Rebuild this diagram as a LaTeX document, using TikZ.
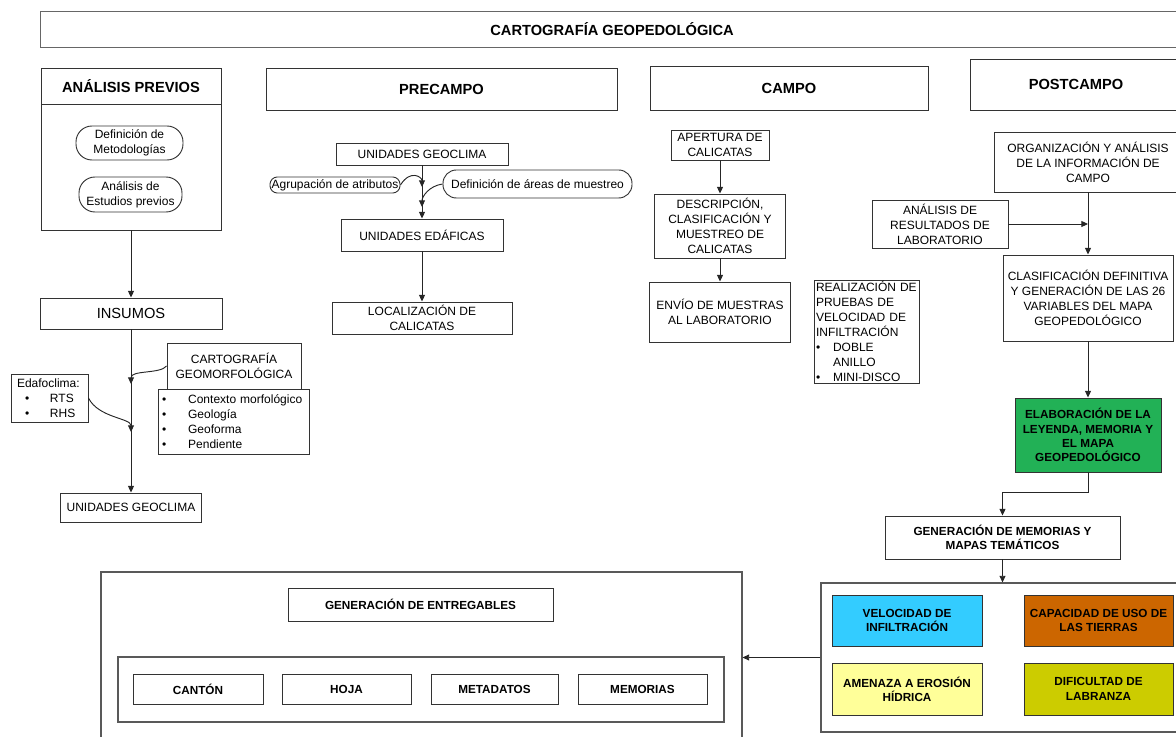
\documentclass[tikz,border=0pt]{standalone}
\usepackage{fontspec}
\setmainfont{Liberation Sans}
\usetikzlibrary{arrows.meta}
\definecolor{verdeelab}{RGB}{34,177,86}
\definecolor{celeste}{RGB}{51,204,255}
\definecolor{naranja}{RGB}{204,102,0}
\definecolor{amarillo}{RGB}{255,255,153}
\definecolor{oliva}{RGB}{204,204,0}

\begin{document}
\begin{tikzpicture}[x=0.75pt,y=-0.75pt,
	wh/.style 2 args={minimum width=#1*0.75pt, minimum height=#2*0.75pt},
	box/.style={draw=black!80, line width=0.7pt, inner sep=1pt, align=center, font=\fontsize{9}{11.2}\selectfont},
	hdr/.style={box, font=\fontsize{11}{13}\selectfont\bfseries},
	bld/.style={box, font=\fontsize{8.8}{10.7}\selectfont\bfseries},
	pill/.style={box, rounded corners=8pt},
	lst/.style={box, align=left},
	marco/.style={draw=black!65, line width=0.8pt},
	flecha/.style={draw=black!85, line width=0.7pt, -{Triangle[length=5pt,width=4.5pt]}}]
	\useasboundingbox (0,0) rectangle (1176,737);
	
	\node[marco, wh={641}{198}] (entFrame) at (421.5,671) {}; %entregables
	\node[marco, wh={361}{149}] (mapFrame) at (1001.5,657.5) {}; %mapas tematicos
	\node[marco, wh={606}{65}] (entInner) at (421,689.5) {};
	
	\node[hdr, draw=black!60, wh={1144}{36}] (titulo) at (612,29) {CARTOGRAFÍA GEOPEDOLÓGICA};
	
	%analisis previos
	\node[hdr, wh={180}{36}] (apHead) at (131,86) {ANÁLISIS PREVIOS};
	\node[box, wh={180}{126}] (apBody) at (131,167) {};
	\node[pill, rounded corners=12pt, wh={107}{34}] (defMet) at (129.5,143) {Definición de\\Metodologías};
	\node[pill, rounded corners=12pt, wh={103}{35}] (antEst) at (130.5,194.5) {Análisis de\\Estudios previos};
	\node[box, font=\fontsize{11}{13}\selectfont, wh={182}{31}] (insumos) at (131,313.5) {INSUMOS};
	\node[box, wh={134}{46}] (cartGeo) at (234,366) {CARTOGRAFÍA\\GEOMORFOLÓGICA};
	\node[lst, fill=white, inner xsep=3pt, text width=107pt, wh={151}{65}] (cartList) at (233.5,421.5) {\makebox[19.5pt][l]{\textbullet}Contexto morfológico\\\makebox[19.5pt][l]{\textbullet}Geología\\\makebox[19.5pt][l]{\textbullet}Geoforma\\\makebox[19.5pt][l]{\textbullet}Pendiente};
	\node[lst, inner xsep=4.5pt, text width=48.75pt, wh={77}{48}] (edafo) at (49.5,398) {Edafoclima:\\\hspace*{6pt}\makebox[18.75pt][l]{\textbullet}RTS\\\hspace*{6pt}\makebox[18.75pt][l]{\textbullet}RHS};
	\node[box, wh={141}{29}] (geoLeft) at (131,507.5) {UNIDADES GEOCLIMA};
	
	%precampo
	\node[hdr, wh={351}{42}] (precampo) at (441.5,89) {PRECAMPO};
	\node[box, wh={172}{22}] (geoPre) at (422,154) {UNIDADES GEOCLIMA};
	\node[pill, rounded corners=5.5pt, wh={130}{16}] (agrup) at (335,185) {Agrupación de atributos};
	\node[pill, rounded corners=10pt, wh={189}{28}] (defArea) at (537.5,184) {Definición de áreas de muestreo};
	\node[box, wh={162}{32}] (edafPre) at (422,235) {UNIDADES EDÁFICAS};
	\node[box, wh={180}{32}] (locCal) at (422,318) {LOCALIZACIÓN DE\\CALICATAS};
	
	%campo
	\node[hdr, wh={278}{44}] (campo) at (789,88) {CAMPO};
	\node[box, wh={98}{30}] (apert) at (720,145) {APERTURA DE\\CALICATAS};
	\node[box, wh={131}{64}] (descr) at (720,226) {DESCRIPCIÓN,\\CLASIFICACIÓN Y\\MUESTREO DE\\CALICATAS};
	\node[box, wh={141}{60}] (envio) at (720,312) {ENVÍO DE MUESTRAS\\AL LABORATORIO};
	\node[lst, inner xsep=1.5pt, text width=75.75pt, wh={105}{103}] (pruebas) at (866.5,331.5) {REALIZACIÓN DE\\PRUEBAS DE\\VELOCIDAD DE\\INFILTRACIÓN\\\makebox[12.75pt][l]{\textbullet}DOBLE\\\hspace*{12.75pt}ANILLO\\\makebox[12.75pt][l]{\textbullet}MINI-DISCO};
	
	%postcampo
	\node[hdr, wh={212}{51}] (postcampo) at (1076,84.5) {POSTCAMPO};
	\node[box, wh={188}{60}] (orgInfo) at (1088,162) {ORGANIZACIÓN Y ANÁLISIS\\DE LA INFORMACIÓN DE\\CAMPO};
	\node[box, wh={136}{48}] (resLab) at (940,224) {ANÁLISIS DE\\RESULTADOS DE\\LABORATORIO};
	\node[box, wh={170}{86}] (clasif) at (1088,298) {CLASIFICACIÓN DEFINITIVA\\Y GENERACIÓN DE LAS 26\\VARIABLES DEL MAPA\\GEOPEDOLÓGICO};
	\node[bld, fill=verdeelab, wh={146}{74}] (elab) at (1088,435) {ELABORACIÓN DE LA\\LEYENDA, MEMORIA Y\\EL MAPA\\GEOPEDOLÓGICO};
	\node[bld, wh={235}{43}] (genMem) at (1002.5,537.5) {GENERACIÓN DE MEMORIAS Y\\MAPAS TEMÁTICOS};
	
	%mapas tematicos
	\node[bld, fill=celeste, wh={150}{51}] (velInf) at (907,620.5) {VELOCIDAD DE\\INFILTRACIÓN};
	\node[bld, fill=naranja, wh={149}{51}] (capUso) at (1098.5,620.5) {CAPACIDAD DE USO DE\\LAS TIERRAS};
	\node[bld, fill=amarillo, wh={150}{52}] (amEro) at (907,689) {AMENAZA A EROSIÓN\\HÍDRICA};
	\node[bld, fill=oliva, wh={149}{52}] (difLab) at (1098.5,689) {DIFICULTAD DE\\LABRANZA};
	
	%entregables
	\node[bld, wh={265}{33}] (genEnt) at (420.5,604.5) {GENERACIÓN DE ENTREGABLES};
	\node[bld, wh={130}{30}] (canton) at (198,689) {CANTÓN};
	\node[bld, wh={129}{30}] (hoja) at (346.5,689) {HOJA};
	\node[bld, wh={127}{30}] (metad) at (494.5,689) {METADATOS};
	\node[bld, wh={129}{30}] (memor) at (642.5,689) {MEMORIAS};
	
	%arrows
	\coordinate (k1) at (131,384);
	\coordinate (k2) at (131,432);
	\coordinate (j1) at (422,187);
	\coordinate (j2) at (422,207);
	\draw[flecha] (apBody.south) -- (insumos.north);
	\draw[flecha] (insumos.south) -- (geoLeft.north);
	\draw[flecha] (cartGeo.west) .. controls +(-6,8) and +(0,-14) .. (k1);
	\draw[flecha] (edafo.east) .. controls +(10,20) and +(0,-14) .. (k2);
	\draw[flecha] (geoPre.south) -- (edafPre.north);
	\draw[flecha] (agrup.east) .. controls +(10,-16) and +(0,-10) .. (j1);
	\draw[flecha] (defArea.west) .. controls +(-14,2) and +(0,-10) .. (j2);
	\draw[flecha] (edafPre.south) -- (locCal.north);
	\draw[flecha] (apert.south) -- (descr.north);
	\draw[flecha] (descr.south) -- (envio.north);
	\draw[flecha] (orgInfo.south) -- (clasif.north);
	\draw[flecha] (resLab.east) -- (resLab.east -| orgInfo.south);
	\draw[flecha] (clasif.south) -- (elab.north);
	\draw[flecha] (elab.south) -- ++(0,20) -| (genMem.north);
	\draw[flecha] (genMem.south) -- (genMem.south |- mapFrame.north);
	\draw[flecha] (mapFrame.west) -- (mapFrame.west -| entFrame.east);
\end{tikzpicture}
\end{document}
